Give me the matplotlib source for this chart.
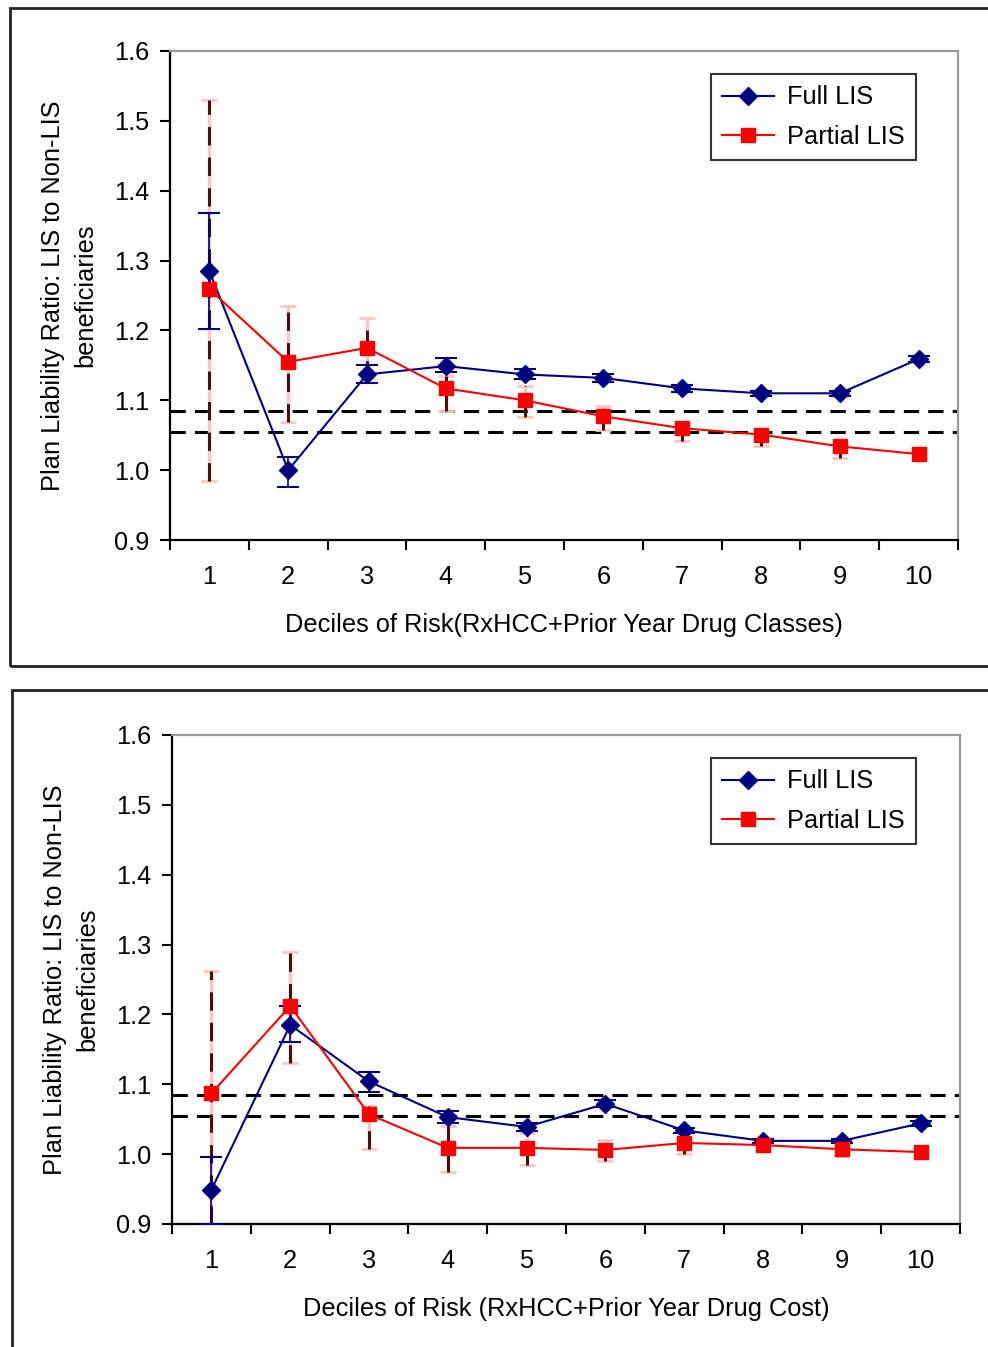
import matplotlib
matplotlib.use("Agg")
import matplotlib.pyplot as plt
from matplotlib.patches import Rectangle
import numpy as np

plt.rcParams['font.family'] = ['Liberation Sans', 'DejaVu Sans']

deciles = [1, 2, 3, 4, 5, 6, 7, 8, 9, 10]
ref_lines = [1.085, 1.055]

# panel 1: RxHCC + prior year drug classes
full1 = [1.285, 1.000, 1.137, 1.149, 1.137, 1.132, 1.117, 1.110, 1.110, 1.159]
full1_hi = [1.368, 1.019, 1.150, 1.160, 1.145, 1.138, 1.122, 1.114, 1.114, 1.163]
full1_lo = [1.202, 0.976, 1.125, 1.140, 1.130, 1.126, 1.112, 1.106, 1.106, 1.155]
part1 = [1.259, 1.155, 1.175, 1.117, 1.100, 1.077, 1.060, 1.051, 1.034, 1.023]
part1_hi = [1.530, 1.235, 1.218, 1.135, 1.120, 1.092, 1.068, 1.058, 1.038, 1.027]
part1_lo = [0.985, 1.069, 1.130, 1.085, 1.076, 1.058, 1.042, 1.035, 1.017, 1.015]

# panel 2: RxHCC + prior year drug cost
full2 = [0.949, 1.185, 1.104, 1.053, 1.039, 1.072, 1.034, 1.019, 1.019, 1.044]
full2_hi = [0.996, 1.212, 1.117, 1.062, 1.045, 1.077, 1.038, 1.022, 1.022, 1.048]
full2_lo = [0.900, 1.160, 1.089, 1.045, 1.033, 1.067, 1.030, 1.016, 1.016, 1.040]
part2 = [1.087, 1.212, 1.057, 1.009, 1.009, 1.006, 1.016, 1.013, 1.007, 1.003]
part2_hi = [1.262, 1.289, 1.069, 1.040, 1.030, 1.020, 1.020, 1.018, 1.010, 1.010]
part2_lo = [0.900, 1.130, 1.007, 0.975, 0.985, 0.990, 1.000, 1.005, 0.998, 0.998]

yticks = [0.9, 1.0, 1.1, 1.2, 1.3, 1.4, 1.5, 1.6]
ylab = "Plan Liability Ratio: LIS to Non-LIS\nbeneficiaries"
xlab1 = "Deciles of Risk(RxHCC+Prior Year Drug Classes)"
xlab2 = "Deciles of Risk (RxHCC+Prior Year Drug Cost)"

FS = 18.3
W, H = 988, 1347
fig = plt.figure(figsize=(W / 100, H / 100), dpi=100)

# outer frames round each chart
fig.patches.append(Rectangle((10 / W, 1 - 666 / H), 1.0, 658 / H, transform=fig.transFigure,
                             fill=False, edgecolor='#222222', linewidth=2, clip_on=False))
fig.patches.append(Rectangle((12 / W, -0.05), 1.0, 0.05 + (H - 690) / H, transform=fig.transFigure,
                             fill=False, edgecolor='#222222', linewidth=2, clip_on=False))


def panel(rect, full, fhi, flo, part, phi, plo, xlab, leg_anchor):
    ax = fig.add_axes(rect)
    x = np.array(deciles)
    for v in ref_lines:
        ax.axhline(v, color='black', linestyle=(0, (5, 3)), linewidth=2.2, zorder=1)
    # partial LIS error bars: pale solid bar with dark dashed overlay
    part = np.array(part)
    ax.errorbar(x, part, yerr=[part - np.array(plo), np.array(phi) - part], fmt='none',
                ecolor='#ffc4c4', elinewidth=2.5, capsize=6, capthick=2, zorder=2)
    ax.vlines(x, plo, phi, colors='#4a1010', linestyles=(0, (6, 4)), linewidth=2.2, zorder=3)
    full = np.array(full)
    ax.errorbar(x, full, yerr=[full - np.array(flo), np.array(fhi) - full], fmt='none',
                ecolor='#000080', elinewidth=1.2, capsize=8, capthick=1.5, zorder=4)
    ax.plot(x, full, color='#000080', marker='D', markersize=9, linewidth=1.5,
            label='Full LIS', zorder=5)
    ax.plot(x, part, color='#ff0000', marker='s', markersize=10, linewidth=1.5,
            label='Partial LIS', zorder=6)

    ax.set_xlim(0.5, 10.5)
    ax.set_ylim(0.9, 1.6)
    ax.set_yticks(yticks)
    ax.set_yticklabels([f"{v:.1f}" for v in yticks])
    ax.set_xticks(deciles)
    ax.set_xticklabels([str(d) for d in deciles])
    ax.set_xticks(np.arange(0.5, 11, 1), minor=True)
    ax.tick_params(axis='x', which='major', length=0, pad=18, labelsize=FS)
    ax.tick_params(axis='x', which='minor', length=7, width=1.5, direction='out')
    ax.tick_params(axis='y', length=7, width=1.5, direction='out', labelsize=FS, pad=8)
    for s in ['left', 'bottom']:
        ax.spines[s].set_color('black')
        ax.spines[s].set_linewidth(1.6)
    for s in ['top', 'right']:
        ax.spines[s].set_color('#999999')
        ax.spines[s].set_linewidth(1.6)
    ax.set_xlabel(xlab, fontsize=FS, labelpad=17)
    yl = ax.set_ylabel(ylab, fontsize=FS, labelpad=12)
    yl.set_linespacing(1.45)
    leg = ax.legend(loc='upper right', bbox_to_anchor=leg_anchor, fontsize=FS, frameon=True,
                    fancybox=False, edgecolor='black', borderaxespad=0, handlelength=2.05,
                    handletextpad=0.5, borderpad=0.45, labelspacing=0.6)
    leg.get_frame().set_linewidth(1.5)
    return ax


panel([170 / W, 1 - 540 / H, 788 / W, 489 / H], full1, full1_hi, full1_lo,
      part1, part1_hi, part1_lo, xlab1, (0.947, 0.953))
panel([172 / W, 1 - 1224 / H, 788 / W, 489 / H], full2, full2_hi, full2_lo,
      part2, part2_hi, part2_lo, xlab2, (0.944, 0.953))

fig.savefig('out.png', dpi=100)
